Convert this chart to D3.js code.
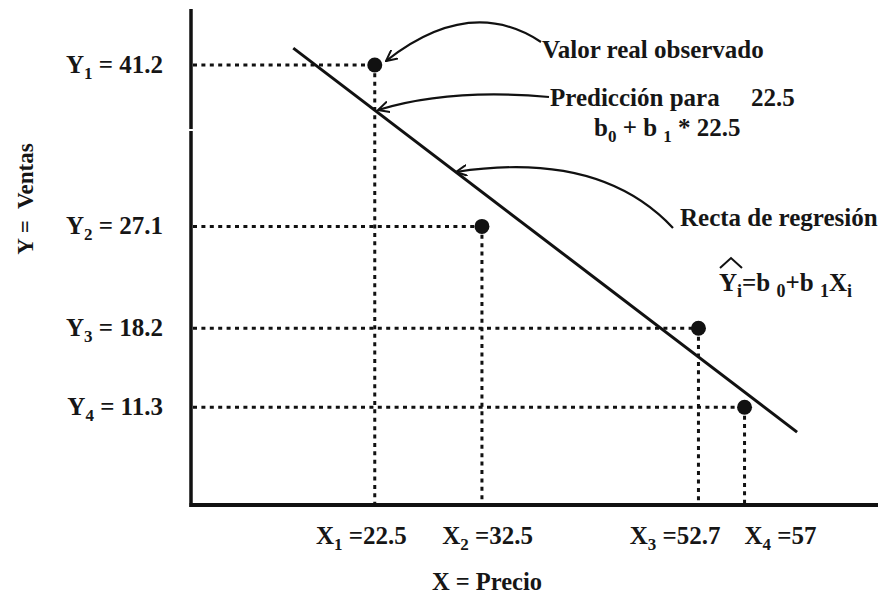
<!DOCTYPE html>
<html><head><meta charset="utf-8">
<script src="https://cdn.jsdelivr.net/npm/d3@7"></script>
<style>
html,body{margin:0;padding:0;background:#fff;}
</style></head>
<body><svg id="c" width="878" height="595"></svg>
<script>
// ---- data ----
const pointIdx = [1, 2, 3, 4];
const xValues = [22.5, 32.5, 52.7, 57];
const yValues = [41.2, 27.1, 18.2, 11.3];
const xLabelText = ["=22.5", "=32.5", "=52.7", "=57"];
const yLabelText = ["= 41.2", "= 27.1", "= 18.2", "= 11.3"];
const regB0 = 53.3, regB1 = -0.7135;
const regXRange = [14.9, 61.9];
const xTitle = "X = Precio";
const yTitle = "Y =  Ventas";

// ---- layout ----
const FONT = "'Liberation Serif', 'Times New Roman', Tinos, 'DejaVu Serif', serif";
const svg = d3.select("#c").attr("font-family", FONT).attr("font-weight", "bold");
const x = d3.scaleLinear().domain([0, 60]).range([133.6, 776.7]);
const y = d3.scaleLinear().domain([0, 50]).range([536.7, -35.8]);
const axisX0 = 191, axisYBottom = 505;
const ink = "#111";

// axes
svg.append("line").attr("x1", axisX0).attr("x2", axisX0).attr("y1", 9).attr("y2", 129)
  .attr("stroke", ink).attr("stroke-width", 3.5);
svg.append("line").attr("x1", axisX0).attr("x2", axisX0).attr("y1", 131).attr("y2", axisYBottom + 2)
  .attr("stroke", ink).attr("stroke-width", 3.5);
svg.append("line").attr("x1", axisX0 - 1.5).attr("x2", 878).attr("y1", axisYBottom).attr("y2", axisYBottom)
  .attr("stroke", ink).attr("stroke-width", 4);

const pts = xValues.map((v, i) => ({i: pointIdx[i], x: v, y: yValues[i]}));

// dotted guides
const g = svg.append("g").attr("stroke", ink).attr("stroke-width", 3).attr("stroke-dasharray", "4,4.4");
g.selectAll(".h").data(pts).enter().append("line")
  .attr("x1", axisX0 + 2).attr("x2", d => x(d.x)).attr("y1", d => y(d.y)).attr("y2", d => y(d.y));
g.selectAll(".v").data(pts).enter().append("line")
  .attr("x1", d => x(d.x)).attr("x2", d => x(d.x)).attr("y1", d => y(d.y)).attr("y2", axisYBottom - 2);

// regression line
svg.append("line")
  .attr("x1", x(regXRange[0])).attr("y1", y(regB0 + regB1 * regXRange[0]))
  .attr("x2", x(regXRange[1])).attr("y2", y(regB0 + regB1 * regXRange[1]))
  .attr("stroke", ink).attr("stroke-width", 3);

// points
svg.selectAll("circle").data(pts).enter().append("circle")
  .attr("cx", d => x(d.x)).attr("cy", d => y(d.y)).attr("r", 7.5).attr("fill", ink);

const T = (sel) => sel.attr("fill", "#161616").attr("font-family", FONT).attr("font-weight", "bold");

// Y labels
const yl = T(svg.selectAll(".yl").data(pts).enter().append("text"))
  .attr("x", 163).attr("y", d => y(d.y) + 8).attr("text-anchor", "end").attr("font-size", 25);
yl.append("tspan").text("Y");
yl.append("tspan").attr("dy", 6).attr("font-size", 17).text(d => d.i);
yl.append("tspan").attr("dy", -6).text((d, k) => " " + yLabelText[k]);

// X labels
const xAnchor = ["end", "end", "end", "start"];
const xDx = [32, 51, 22, 0];
const xl = T(svg.selectAll(".xl").data(pts).enter().append("text"))
  .attr("x", (d, k) => x(d.x) + xDx[k]).attr("y", 544).attr("text-anchor", (d, k) => xAnchor[k])
  .attr("font-size", 25);
xl.append("tspan").text("X");
xl.append("tspan").attr("dy", 6).attr("font-size", 17).text(d => d.i);
xl.append("tspan").attr("dy", -6).text((d, k) => " " + xLabelText[k]);

// axis titles
T(svg.append("text")).attr("x", 487).attr("y", 590).attr("text-anchor", "middle").attr("font-size", 24.5).text(xTitle);
T(svg.append("text")).attr("transform", "translate(33,199) rotate(-90)").attr("text-anchor", "middle")
  .attr("font-size", 23).attr("xml:space", "preserve").text(yTitle);

// annotations
T(svg.append("text")).attr("x", 542).attr("y", 58).attr("font-size", 25).text("Valor real observado");
T(svg.append("text")).attr("x", 550).attr("y", 106).attr("font-size", 25).attr("xml:space", "preserve")
  .text("Predicción para     22.5");
const f1 = T(svg.append("text")).attr("x", 594).attr("y", 136).attr("font-size", 25);
f1.append("tspan").text("b");
f1.append("tspan").attr("dy", 6).attr("font-size", 17).text("0");
f1.append("tspan").attr("dy", -6).text(" + b ");
f1.append("tspan").attr("dy", 6).attr("font-size", 17).text("1");
f1.append("tspan").attr("dy", -6).text(" * 22.5");
T(svg.append("text")).attr("x", 680).attr("y", 226).attr("font-size", 25).text("Recta de regresión");
const f2 = T(svg.append("text")).attr("x", 719).attr("y", 291).attr("font-size", 25);
f2.append("tspan").text("Y");
f2.append("tspan").attr("dy", 6).attr("font-size", 18).text("i");
f2.append("tspan").attr("dy", -6).text("=b ");
f2.append("tspan").attr("dy", 6).attr("font-size", 18).text("0");
f2.append("tspan").attr("dy", -6).text("+b ");
f2.append("tspan").attr("dy", 6).attr("font-size", 18).text("1");
f2.append("tspan").attr("dy", -6).text("X");
f2.append("tspan").attr("dy", 6).attr("font-size", 18).text("i");
// hat over Y
svg.append("path").attr("d", "M720,268 L731,258 L742,268").attr("fill", "none").attr("stroke", ink).attr("stroke-width", 2);

// arrows
const defs = svg.append("defs");
defs.append("marker").attr("id", "ah").attr("viewBox", "0 0 12 12").attr("refX", 11).attr("refY", 6)
  .attr("markerWidth", 12).attr("markerHeight", 12).attr("markerUnits", "userSpaceOnUse").attr("orient", "auto")
  .append("path").attr("d", "M0,0.5 L11,6 L0,11.5").attr("fill", "none").attr("stroke", ink).attr("stroke-width", 2);
const arrows = [
  "M541,42 Q470,-5 386,61",
  "M549,97 Q450,88 378,110",
  "M673,228 Q600,150 456,172"
];
svg.selectAll(".arr").data(arrows).enter().append("path").attr("d", d => d)
  .attr("fill", "none").attr("stroke", ink).attr("stroke-width", 2.2).attr("marker-end", "url(#ah)");
</script></body></html>
